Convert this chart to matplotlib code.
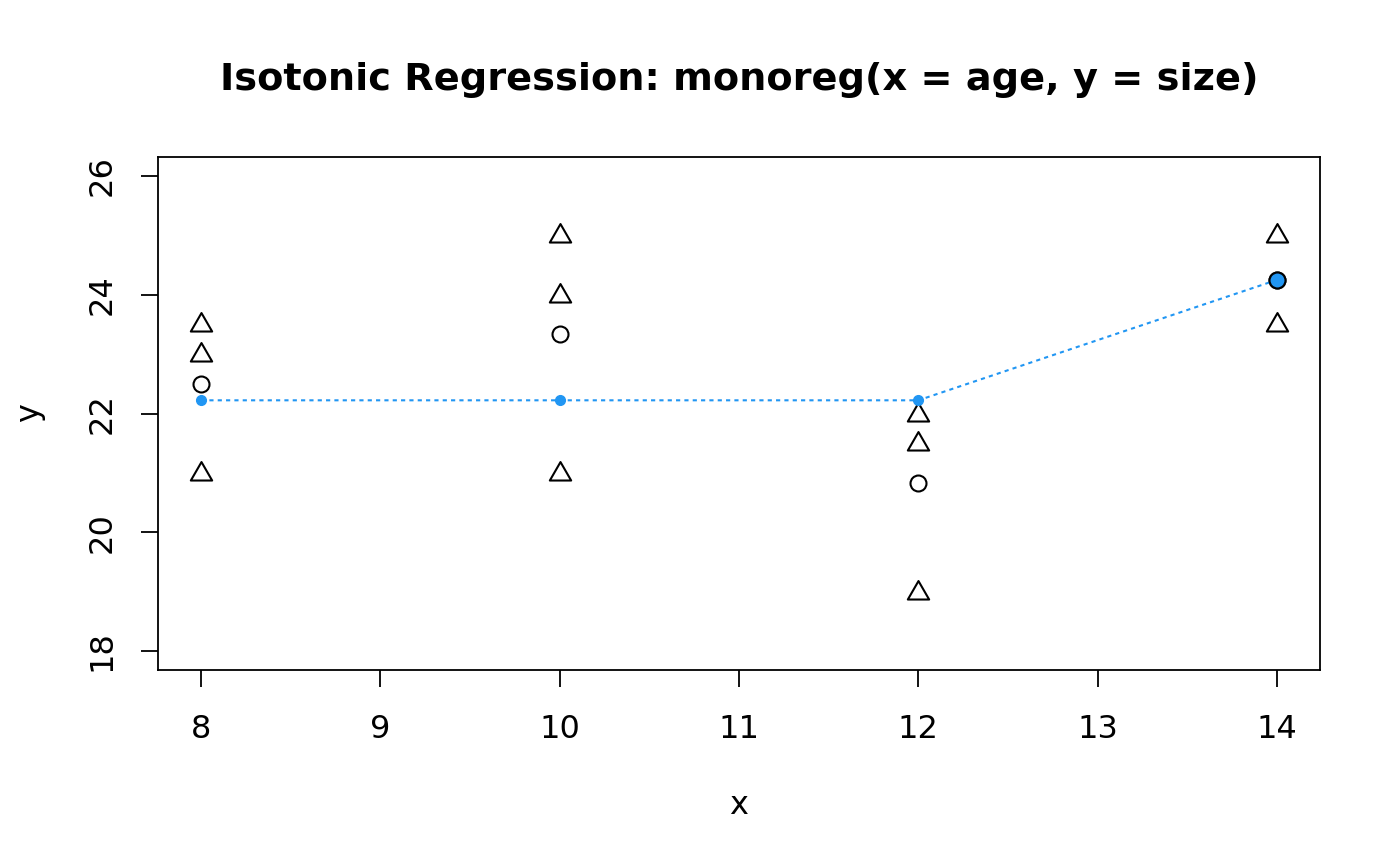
import matplotlib
matplotlib.use("Agg")
import matplotlib.pyplot as plt
from matplotlib.path import Path
import numpy as np

age = [8, 8, 8, 10, 10, 10, 12, 12, 12, 14, 14]
size = [23.5, 23.0, 21.0, 25.0, 24.0, 21.0, 22.0, 21.5, 19.0, 25.0, 23.5]
mean_x = [8, 10, 12, 14]
mean_y = [22.5, 23.3333, 20.8333, 24.25]
fit_y = [22.2222, 22.2222, 22.2222, 24.25]
xticks = [8, 9, 10, 11, 12, 13, 14]
yticks = [18, 20, 22, 24, 26]

blue = '#2196F3'
plt.rcParams['font.family'] = ['DejaVu Sans']

fig = plt.figure(figsize=(14, 8.66), dpi=100)
ax = fig.add_axes([158/1400, 1-670/866, (1320-158)/1400, (670-157)/866])

tri = Path([(0, 0.62), (-0.577, -0.38), (0.577, -0.38), (0, 0.62)],
           [Path.MOVETO, Path.LINETO, Path.LINETO, Path.CLOSEPOLY])
ax.plot(age, size, linestyle='none', marker=tri, markersize=16.5, markerfacecolor='none',
        markeredgecolor='black', markeredgewidth=1.5)
ax.plot(mean_x, mean_y, linestyle='none', marker='o', markersize=11.5, markerfacecolor='none',
        markeredgecolor='black', markeredgewidth=1.5)
ax.plot(mean_x, fit_y, linestyle=(0, (2, 2)), color=blue, linewidth=1.5)
ax.plot(mean_x, fit_y, linestyle='none', marker='o', markersize=7, color=blue)
mx = np.array(mean_x); my = np.array(mean_y); fy = np.array(fit_y)
same = np.abs(my - fy) < 1e-6
ax.plot(mx[same], my[same], linestyle='none', marker='o', markersize=11.5,
        markerfacecolor=blue, markeredgecolor='black', markeredgewidth=1.5)

ax.set_xlim(7.76, 14.24)
ax.set_ylim(17.68, 26.32)
ax.set_xticks(xticks)
ax.set_yticks(yticks)
ax.tick_params(axis='both', direction='out', length=12, width=1.3, labelsize=23)
ax.tick_params(axis='x', pad=20)
ax.tick_params(axis='y', pad=17)
for lab in ax.get_yticklabels():
    lab.set_rotation(90)
    lab.set_va('center')
for s in ax.spines.values():
    s.set_linewidth(1.3)

fig.text(739/1400, 1-80/866, 'Isotonic Regression: monoreg(x = age, y = size)',
         ha='center', va='center', fontsize=27.5, fontweight='bold')
fig.text(739/1400, 1-805/866, 'x', ha='center', va='center', fontsize=23)
fig.text(30/1400, 1-413/866, 'y', ha='center', va='center', fontsize=23, rotation=90)

fig.savefig('out.png', dpi=100)
